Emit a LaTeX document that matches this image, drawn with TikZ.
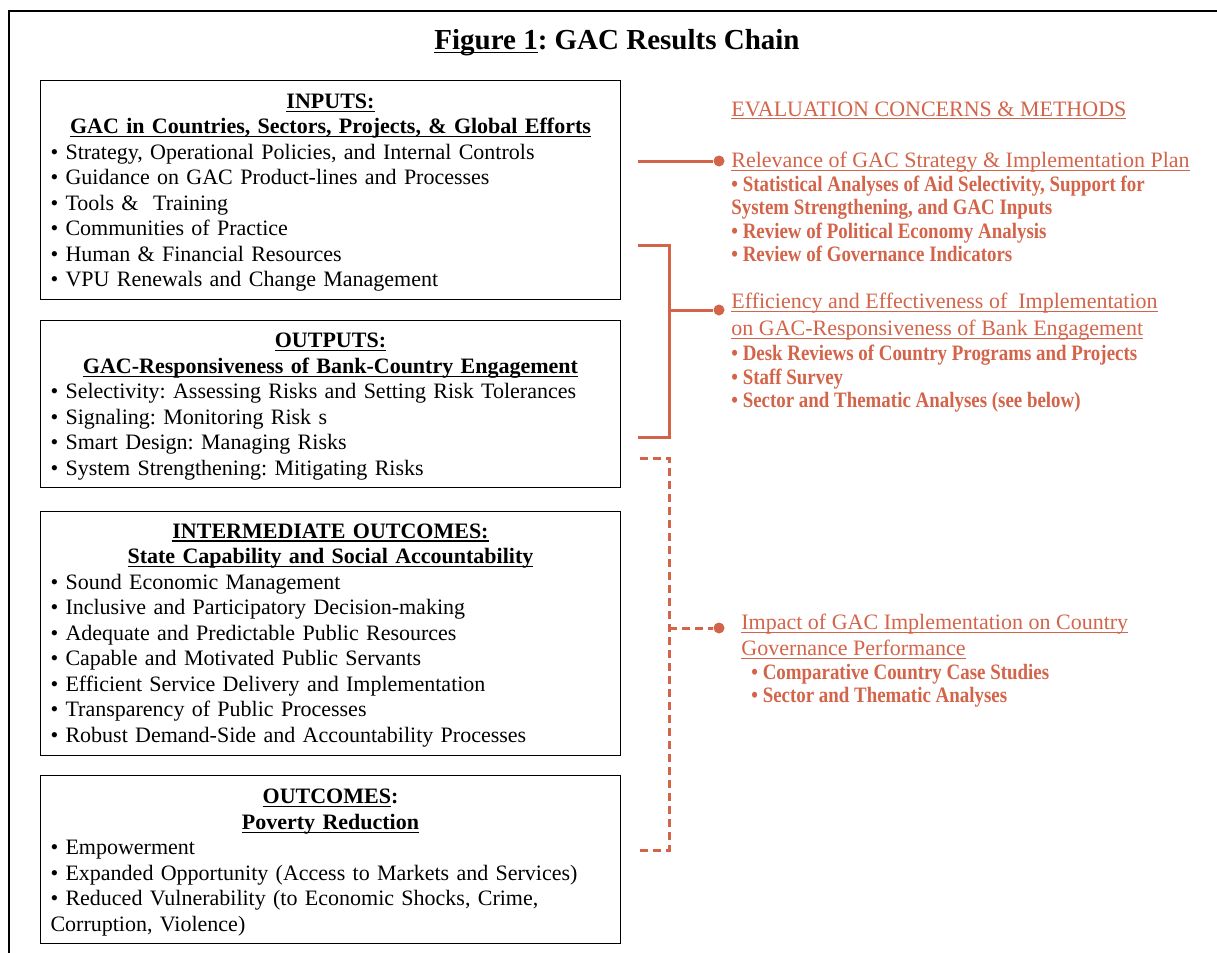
\documentclass[tikz,border=0pt]{standalone}
\usepackage{fontspec}
\setmainfont{Liberation Serif}
\newfontface\methodbold[FakeStretch=0.86]{Liberation Serif Bold}
\definecolor{evalred}{RGB}{211,100,74}
\newsavebox{\ulbox}
\newcommand{\uln}[1]{\leavevmode\sbox{\ulbox}{#1}\rlap{\rule[-1.7pt]{\wd\ulbox}{0.55pt}}\usebox{\ulbox}}
\frenchspacing

\begin{document}
\begin{tikzpicture}[x=0.5pt, y=-0.5pt]
    \tikzstyle{stage}=[draw, line width=0.5pt, anchor=north west, text width=280pt, inner xsep=5pt, inner ysep=0pt, font=\fontsize{11}{12.75}\selectfont]
    \tikzstyle{method}=[anchor=north west, text=evalred, align=left, inner sep=0pt, font=\fontsize{11}{11.75}\selectfont]
    \tikzstyle{link}=[evalred, line width=1.5pt]
    \tikzstyle{weaklink}=[link, dash pattern=on 4pt off 2.5pt]
    \tikzstyle{tip}=[circle, fill=evalred, inner sep=0pt, minimum size=5.5pt]

    \useasboundingbox (0,0) rectangle (1217,953);
    \draw[line width=1pt] (1217,11) -- (9,11) -- (9,953);
    \node[font=\fontsize{14.5}{16}\selectfont\bfseries] (title) at (617,43) {\uln{Figure 1}: GAC Results Chain};

    \node[stage, minimum height=109.5pt] (inputs) at (40,80) {\raggedright
      {\centering\bfseries\rule{0pt}{10pt}\uln{INPUTS:}\\\uln{GAC in Countries, Sectors, Projects, \& Global Efforts}\par}
      \textbullet\ Strategy, Operational Policies, and Internal Controls\\
      \textbullet\ Guidance on GAC Product-lines and Processes\\
      \textbullet\ Tools \&\ \ Training\\
      \textbullet\ Communities of Practice\\
      \textbullet\ Human \& Financial Resources\\
      \textbullet\ VPU Renewals and Change Management};
    \node[stage, minimum height=83.5pt] (outputs) at (40,320) {\raggedright
      {\centering\bfseries\rule{0pt}{10pt}\uln{OUTPUTS:}\\\uln{GAC-Responsiveness of Bank-Country Engagement}\par}
      \textbullet\ Selectivity: Assessing Risks and Setting Risk Tolerances\\
      \textbullet\ Signaling: Monitoring Risk s\\
      \textbullet\ Smart Design: Managing Risks\\
      \textbullet\ System Strengthening: Mitigating Risks};
    \node[stage, minimum height=122pt] (intermediate) at (40,511) {\raggedright
      {\centering\bfseries\rule{0pt}{9pt}\uln{INTERMEDIATE OUTCOMES:}\\\uln{State Capability and Social Accountability}\par}
      \textbullet\ Sound Economic Management\\
      \textbullet\ Inclusive and Participatory Decision-making\\
      \textbullet\ Adequate and Predictable Public Resources\\
      \textbullet\ Capable and Motivated Public Servants\\
      \textbullet\ Efficient Service Delivery and Implementation\\
      \textbullet\ Transparency of Public Processes\\
      \textbullet\ Robust Demand-Side and Accountability Processes};
    \node[stage, minimum height=84pt] (outcomes) at (40,775) {\raggedright
      {\centering\bfseries\rule{0pt}{10.5pt}\uln{OUTCOMES}:\\\uln{Poverty Reduction}\par}
      \textbullet\ Empowerment\\
      \textbullet\ Expanded Opportunity (Access to Markets and Services)\\
      \textbullet\ Reduced Vulnerability (to Economic Shocks, Crime,\\
      Corruption, Violence)};

    \node[method] (evalhead) at (731,101) {\uln{EVALUATION CONCERNS \& METHODS}};
    \node[method] (relevance) at (731,152) {\uln{Relevance of GAC Strategy \& Implementation Plan}\\
      \methodbold\textbullet\ Statistical Analyses of Aid Selectivity, Support for\\
      \methodbold System Strengthening, and GAC Inputs\\
      \methodbold\textbullet\ Review of Political Economy Analysis\\
      \methodbold\textbullet\ Review of Governance Indicators};
    \node[method] (efficiency) at (731,293) {\uln{Efficiency and Effectiveness of\ \ Implementation}\\[1.75pt]
      \uln{on GAC-Responsiveness of Bank Engagement}\\[0.75pt]
      \methodbold\textbullet\ Desk Reviews of Country Programs and Projects\\
      \methodbold\textbullet\ Staff Survey\\
      \methodbold\textbullet\ Sector and Thematic Analyses (see below)};
    \node[method] (impact) at (741,614) {\uln{Impact of GAC Implementation on Country}\\[1.25pt]
      \uln{Governance Performance}\\
      \methodbold\hspace*{5pt}\textbullet\ Comparative Country Case Studies\\
      \methodbold\hspace*{5pt}\textbullet\ Sector and Thematic Analyses};

    \node[tip] (reldot) at (719,161) {};
    \node[tip] (effdot) at (719,310) {};
    \node[tip] (impdot) at (719,628) {};
    \coordinate (relfrom) at (638,161);
    \coordinate (btop) at (638,245);
    \coordinate (bbot) at (638,437);
    \coordinate (bmid) at (669,310);
    \coordinate (dtop) at (640,458);
    \coordinate (dbot) at (640,850);
    \coordinate (dmid) at (669,628);

    \draw[link] (relfrom) -- (reldot);
    \draw[link] (btop) -| (bmid) |- (bbot);
    \draw[link] (bmid) -- (effdot);
    \draw[weaklink] (dtop) -| (dmid) |- (dbot);
    \draw[weaklink] (dmid) -- (impdot);
\end{tikzpicture}
\end{document}
